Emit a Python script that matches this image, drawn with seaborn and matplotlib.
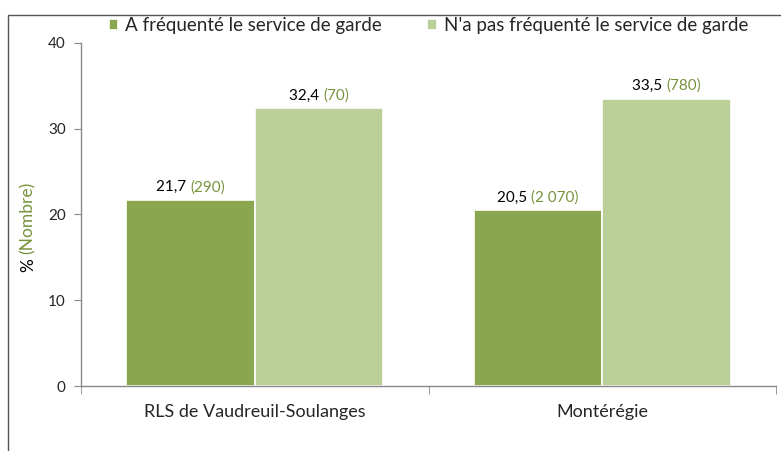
import seaborn as sns
import matplotlib.pyplot as plt
import pandas as pd
from matplotlib.patches import Rectangle
from matplotlib.offsetbox import TextArea, HPacker, AnnotationBbox

# Données
regions = ['RLS de Vaudreuil-Soulanges', 'Montérégie']
groupes = ['A fréquenté le service de garde', "N'a pas fréquenté le service de garde"]
pct_frequente = [21.7, 20.5]
pct_pas_frequente = [32.4, 33.5]
nb_frequente = ['290', '2 070']
nb_pas_frequente = ['70', '780']

df = pd.DataFrame({
    'Région': regions * 2,
    'Groupe': [groupes[0]] * 2 + [groupes[1]] * 2,
    'Pourcentage': pct_frequente + pct_pas_frequente,
    'Nombre': nb_frequente + nb_pas_frequente,
})

vert_fonce = '#8AA64E'
vert_pale = '#BBCF98'
vert_texte = '#77933C'

sns.set_style('white')
plt.rcParams['font.family'] = ['Lato', 'DejaVu Sans']

fig = plt.figure(figsize=(7.81, 4.51), dpi=100)
ax = fig.add_axes([0.1037, 0.1441, 0.89, 0.7606])

sns.barplot(data=df, x='Région', y='Pourcentage', hue='Groupe',
            palette=[vert_fonce, vert_pale], saturation=1, width=0.74, gap=0,
            edgecolor='white', linewidth=1.2, ax=ax)

ax.set_ylim(0, 40)
ax.set_xlim(-0.5, 1.5)
ax.set_yticks([0, 10, 20, 30, 40])
ax.tick_params(axis='y', length=5, color='#888888', labelsize=11, pad=6, direction='out', left=True)
ax.set_xticks([0, 1])
ax.set_xticklabels(regions, fontsize=13)
ax.set_xticks([-0.5, 0.5, 1.5], minor=True)
ax.tick_params(axis='x', which='major', length=0, pad=13)
ax.tick_params(axis='x', which='minor', length=6, color='#888888', direction='out', bottom=True)
for s in ['top', 'right']:
    ax.spines[s].set_visible(False)
for s in ['left', 'bottom']:
    ax.spines[s].set_color('#888888')
    ax.spines[s].set_linewidth(1)
ax.set_xlabel('')
ax.set_ylabel('')

# Étiquettes des barres
for container, grp in zip(ax.containers, groupes):
    sub = df[df['Groupe'] == grp]
    for bar, (_, row) in zip(container, sub.iterrows()):
        x = bar.get_x() + bar.get_width() / 2
        y = bar.get_height()
        t1 = TextArea(f"{row['Pourcentage']:.1f}".replace('.', ',') + ' ',
                      textprops=dict(color='black', fontsize=11))
        t2 = TextArea(f"({row['Nombre']})", textprops=dict(color=vert_texte, fontsize=11))
        box = HPacker(children=[t1, t2], pad=0, sep=0)
        ab = AnnotationBbox(box, (x, y), xybox=(0, 4), xycoords='data',
                            boxcoords='offset points', box_alignment=(0.5, 0),
                            frameon=False)
        ax.add_artist(ab)

# Légende
ax.legend(loc='upper center', bbox_to_anchor=(0.5, 1.125), ncol=2, frameon=False,
          fontsize=13.5, handlelength=0.5, handleheight=0.5, handletextpad=0.4,
          columnspacing=2.4)

# Titre de l'axe y en deux couleurs
fig.text(0.036, 0.412, '%', rotation=90, color='black', fontsize=12.5, ha='center', va='center')
fig.text(0.036, 0.518, '(Nombre)', rotation=90, color=vert_texte, fontsize=12.5, ha='center', va='center')

# Cadre
fig.patches.append(Rectangle((8 / 781, -0.1), 1.2, 1 - 15 / 451 + 0.1, transform=fig.transFigure,
                             fill=False, edgecolor='#555555', linewidth=1))

fig.savefig('out.png', dpi=100)
